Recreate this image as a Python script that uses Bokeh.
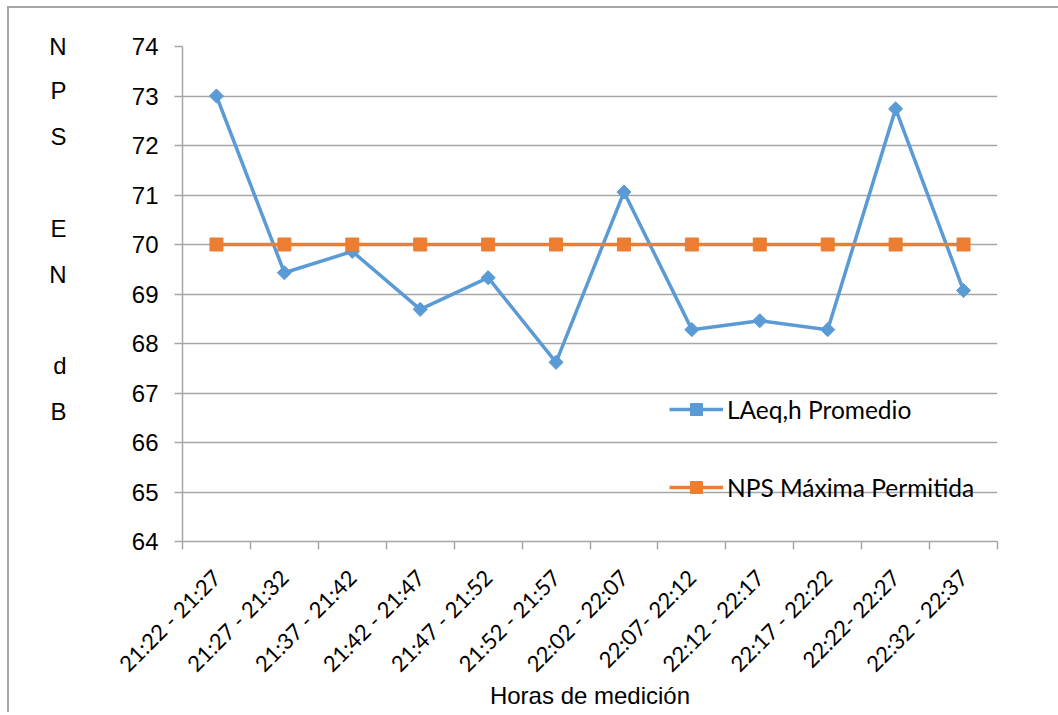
import numpy as np
from bokeh.plotting import figure
from bokeh.models import Range1d, FixedTicker, Legend, LegendItem, LinearAxis
from bokeh.embed import file_html
from bokeh.resources import INLINE

# ---- data ----
categories = ["21:22 - 21:27", "21:27 - 21:32", "21:37 - 21:42", "21:42 - 21:47",
              "21:47 - 21:52", "21:52 - 21:57", "22:02 - 22:07", "22:07- 22:12",
              "22:12 - 22:17", "22:17 - 22:22", "22:22- 22:27", "22:32 - 22:37"]
laeq_promedio = [73.0, 69.43, 69.86, 68.69, 69.33, 67.62, 71.06, 68.28, 68.46, 68.28, 72.74, 69.07]
nps_maxima = [70, 70, 70, 70, 70, 70, 70, 70, 70, 70, 70, 70]
y_ticks = [64, 65, 66, 67, 68, 69, 70, 71, 72, 73, 74]
y_title_letters = ["N", "P", "S", "", "E", "N", "", "d", "B"]
series_names = ["LAeq,h Promedio", "NPS Máxima Permitida"]
x_title = "Horas de medición"

BLUE = "#5B9BD5"
ORANGE = "#ED7D31"
GRID = "#a6a6a6"

FRAME_W, FRAME_H = 815, 495

x_idx = list(range(len(categories)))
boundaries = [i - 0.5 for i in x_idx] + [x_idx[-1] + 0.5]

p = figure(frame_width=FRAME_W, frame_height=FRAME_H,
           x_range=Range1d(-0.5, len(categories) - 0.5),
           y_range=Range1d(y_ticks[0], y_ticks[-1]),
           output_backend="svg", toolbar_location=None,
           min_border_left=173, min_border_right=61,
           min_border_top=38, min_border_bottom=10)
p.styles = {"margin-left": "7px", "margin-top": "6px",
            "border-left": "2px solid #a6a6a6", "border-top": "2px solid #a6a6a6"}
p.outline_line_color = None
p.background_fill_color = "white"
p.border_fill_color = "white"

p.xgrid.visible = False
p.ygrid.grid_line_color = GRID
p.ygrid.grid_line_width = 1.5

# main y axis
p.yaxis.ticker = FixedTicker(ticks=y_ticks)
p.yaxis.major_tick_out = 8
p.yaxis.major_tick_in = 0
p.yaxis.major_tick_line_color = GRID
p.yaxis.major_tick_line_width = 1.5
p.yaxis.minor_tick_line_color = None
p.yaxis.axis_line_color = GRID
p.yaxis.axis_line_width = 1.5
p.yaxis.major_label_text_font = "Liberation Sans"
p.yaxis.major_label_text_font_size = "24px"
p.yaxis.major_label_text_color = "#000000"
p.yaxis.major_label_standoff = 16

# stacked y-axis title, drawn as the labels of an extra bare axis
px_per_unit = FRAME_H / (y_ticks[-1] - y_ticks[0])
title_ticks = []
title_over = {}
for k, ch in enumerate(y_title_letters):
    if not ch:
        continue
    pix = max(0.0, 45.9 * k - 2)
    v = round(y_ticks[-1] - pix / px_per_unit, 2)
    title_ticks.append(v)
    title_over[v] = ch
title_axis = LinearAxis(ticker=FixedTicker(ticks=title_ticks),
                        major_label_overrides=title_over,
                        axis_line_color=None, major_tick_line_color=None,
                        minor_tick_line_color=None,
                        major_tick_out=0, major_tick_in=0,
                        major_label_standoff=62,
                        major_label_text_align="center",
                        major_label_text_font="Liberation Sans",
                        major_label_text_font_size="24px",
                        major_label_text_color="#000000")
p.add_layout(title_axis, "left")

# x axis
p.xaxis.ticker = FixedTicker(ticks=x_idx, minor_ticks=boundaries)
p.xaxis.major_label_overrides = {v: c for v, c in zip(x_idx, categories)}
p.xaxis.major_tick_line_color = None
p.xaxis.major_tick_out = 8
p.xaxis.major_tick_in = 0
p.xaxis.minor_tick_out = 8
p.xaxis.minor_tick_in = 0
p.xaxis.minor_tick_line_color = GRID
p.xaxis.minor_tick_line_width = 1.5
p.xaxis.axis_line_color = GRID
p.xaxis.axis_line_width = 1.5
p.xaxis.major_label_orientation = np.pi / 4
p.xaxis.major_label_text_font = "Lato"
p.xaxis.major_label_text_font_size = "22px"
p.xaxis.major_label_text_color = "#000000"
p.xaxis.major_label_standoff = 24
p.xaxis.axis_label = x_title
p.xaxis.axis_label_text_font = "Liberation Sans"
p.xaxis.axis_label_text_font_size = "24px"
p.xaxis.axis_label_text_font_style = "normal"
p.xaxis.axis_label_text_color = "#000000"
p.xaxis.axis_label_standoff = -7

# series
l1 = p.line(x_idx, laeq_promedio, line_color=BLUE, line_width=3.5)
s1 = p.scatter(x_idx, laeq_promedio, marker="square", angle=np.pi / 4, size=10,
               fill_color=BLUE, line_color=BLUE)
l2 = p.line(x_idx, nps_maxima, line_color=ORANGE, line_width=3.5)
s2 = p.scatter(x_idx, nps_maxima, marker="square", size=13,
               fill_color=ORANGE, line_color=ORANGE)

legend = Legend(items=[LegendItem(label=series_names[0], renderers=[l1, s1]),
                       LegendItem(label=series_names[1], renderers=[l2, s2])],
                location=(487, 39), padding=0, margin=0, spacing=48,
                glyph_width=54, glyph_height=30, label_height=30, label_standoff=4,
                label_text_font="Lato", label_text_font_size="24.5px",
                label_text_color="#000000",
                background_fill_alpha=0, border_line_alpha=0)
p.add_layout(legend)

open("out.html", "w").write(file_html(p, INLINE))
